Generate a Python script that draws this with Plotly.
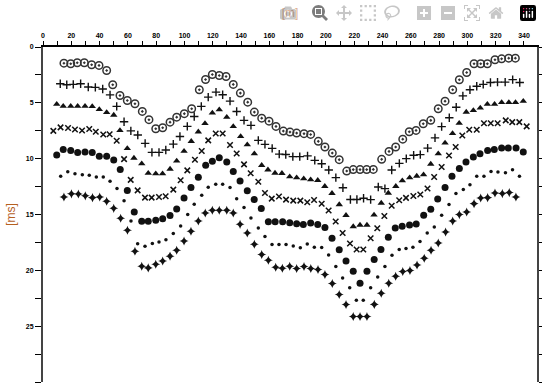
import plotly.graph_objects as go

# ---- data (distance [m], time [ms]) ----
circ_x = [14.8, 19.6, 24.2, 29.2, 34.4, 39.6, 45.0, 49.3, 54.4, 59.6, 65.0, 70.2, 74.9, 79.7, 84.6, 89.8, 94.5, 99.9, 105.1, 110.5,
          114.9, 119.7, 124.6, 129.4, 134.5, 139.5, 144.7, 149.4, 154.6, 159.8, 164.7, 169.9, 174.6, 179.3, 184.5, 189.2, 194.6, 199.3,
          204.5, 209.4, 214.7, 219.3, 224.1, 228.8, 233.5, 239.4, 244.6, 249.3, 254.3, 258.9, 263.7, 268.8, 274.1, 279.4, 284.2, 289.6,
          294.3, 299.5, 304.7, 309.4, 314.1, 319.5, 324.2, 329.2, 333.9]
circ_y = [1.45, 1.50, 1.41, 1.41, 1.59, 1.65, 2.10, 3.38, 4.34, 4.79, 5.08, 5.77, 6.51, 7.32, 7.23, 6.73, 6.28, 5.97, 5.53, 3.83,
          2.91, 2.46, 2.55, 2.64, 3.35, 4.13, 4.94, 5.83, 6.37, 6.64, 7.11, 7.53, 7.62, 7.71, 7.76, 7.83, 8.45, 8.96,
          9.50, 10.09, 11.11, 10.98, 10.98, 10.98, 10.96, 10.06, 9.35, 8.96, 8.25, 7.59, 7.47, 6.87, 6.57, 5.53, 4.85, 3.83,
          2.93, 2.28, 1.50, 1.50, 1.50, 1.14, 1.06, 1.00, 1.00]

plus_x = [12.2, 16.8, 21.4, 26.6, 32.0, 37.0, 42.2, 47.4, 52.1, 57.3, 62.1, 67.0, 72.2, 77.0, 82.0, 86.8, 92.1, 96.8, 102.0, 106.9,
          111.9, 116.8, 122.3, 127.0, 132.2, 136.9, 142.1, 147.0, 152.2, 156.9, 162.0, 167.0, 171.6, 176.6, 181.5, 187.0, 192.1,
          197.0, 202.0, 207.0, 212.0, 217.3, 221.9, 226.6, 231.6, 237.0, 241.7, 246.5, 251.9, 256.8, 262.0, 266.7, 271.9, 277.1,
          281.8, 287.2, 292.1, 296.8, 301.8, 306.6, 311.2, 316.3, 321.3, 326.7, 332.0, 337.0]
plus_y = [3.29, 3.38, 3.35, 3.29, 3.58, 3.62, 3.76, 4.29, 5.32, 6.69, 7.51, 7.88, 8.63, 9.44, 9.44, 9.22, 8.70, 8.01, 7.11, 6.22,
          5.32, 4.49, 4.04, 4.28, 4.85, 5.77, 6.57, 7.02, 8.36, 8.72, 9.08, 9.59, 9.63, 9.82, 9.82, 9.75, 10.15,
          10.45, 11.02, 11.70, 12.61, 13.66, 13.66, 13.55, 13.67, 12.54, 12.68, 11.01, 10.42, 10.00, 9.70, 9.64, 9.06, 8.14,
          7.13, 6.33, 5.39, 4.38, 3.83, 3.52, 3.35, 3.18, 3.15, 3.15, 2.92, 3.18]

tri_x = [9.7, 14.3, 19.6, 24.5, 29.7, 34.8, 39.8, 45.0, 50.0, 54.4, 59.6, 64.3, 69.8, 74.4, 79.7, 84.5, 89.8, 94.5, 99.7, 104.8,
         109.8, 114.5, 119.7, 124.6, 129.9, 134.5, 139.7, 144.4, 149.4, 154.6, 159.0, 164.0, 168.9, 174.4, 179.3, 184.3, 189.2,
         194.2, 199.2, 204.3, 209.4, 214.2, 219.3, 224.1, 229.0, 234.0, 239.1, 244.1, 249.4, 254.0, 259.2, 264.2, 269.0, 274.1,
         279.4, 284.2, 289.5, 294.2, 299.2, 304.2, 309.1, 314.1, 319.2, 324.2, 329.3, 334.0, 339.5]
tri_y = [5.12, 5.30, 5.30, 5.30, 5.30, 5.32, 5.59, 5.86, 6.10, 7.47, 9.08, 9.95, 10.45, 11.30, 11.34, 11.34, 10.93, 10.20, 9.33, 8.45,
         7.60, 6.84, 5.90, 5.61, 6.28, 7.11, 8.01, 8.75, 9.55, 10.60, 11.00, 11.29, 11.31, 11.61, 11.70, 11.79, 11.88,
         11.94, 12.48, 13.10, 14.11, 15.07, 16.08, 15.94, 15.94, 15.04, 13.97, 13.08, 12.48, 11.97, 11.70, 11.56, 11.43, 10.48,
         9.55, 8.59, 7.74, 6.82, 5.83, 5.68, 5.46, 5.12, 5.12, 4.96, 4.96, 4.96, 4.85]

xm_x = [7.3, 12.4, 17.7, 22.6, 27.6, 32.7, 37.3, 42.6, 47.1, 52.1, 57.3, 62.0, 66.9, 72.1, 76.8, 82.0, 86.7, 92.1, 97.3, 102.0,
        107.4, 112.2, 116.8, 122.1, 127.0, 132.2, 136.9, 142.1, 146.8, 152.2, 156.9, 161.7, 166.8, 171.8, 176.9, 181.9, 186.8,
        191.6, 197.0, 201.9, 206.9, 211.8, 217.0, 221.7, 226.4, 231.6, 236.3, 241.3, 246.5, 251.8, 256.6, 261.8, 266.7, 271.8,
        276.5, 281.8, 287.0, 291.7, 296.4, 301.3, 306.6, 311.7, 316.5, 321.4, 327.1, 331.7, 336.7, 341.9]
xm_y = [7.51, 7.20, 7.25, 7.38, 7.47, 7.35, 7.59, 7.84, 7.81, 8.39, 10.04, 11.90, 12.84, 13.49, 13.49, 13.43, 13.37, 12.77, 11.94, 11.05,
        10.09, 9.32, 8.36, 7.74, 7.74, 8.78, 9.53, 10.51, 11.31, 12.06, 13.08, 13.58, 13.39, 13.67, 13.76, 13.76, 13.91,
        13.70, 14.03, 14.65, 15.63, 16.65, 17.60, 18.13, 18.13, 17.13, 16.23, 15.13, 14.22, 13.73, 13.51, 13.35, 13.21, 12.68,
        11.65, 10.75, 9.71, 8.96, 7.92, 7.41, 7.41, 6.82, 6.82, 6.82, 6.57, 6.73, 6.73, 7.11]

dot_x = [9.7, 14.3, 19.6, 24.5, 29.7, 34.8, 39.8, 45.0, 50.0, 54.6, 59.6, 64.5, 69.8, 74.4, 79.7, 84.6, 89.8, 94.5, 99.7, 104.6,
         109.8, 115.0, 119.7, 124.6, 129.9, 134.5, 139.3, 144.4, 149.3, 154.3, 159.3, 164.1, 169.4, 174.4, 179.3, 184.0, 189.2,
         194.2, 199.3, 204.3, 209.4, 214.2, 219.3, 224.1, 229.0, 234.1, 238.9, 244.1, 249.0, 253.9, 259.1, 263.8, 269.1, 274.1,
         279.0, 284.2, 289.1, 294.3, 299.0, 304.2, 308.9, 314.3, 319.0, 324.2, 328.9, 334.4, 339.5]
dot_y = [9.68, 9.19, 9.26, 9.44, 9.41, 9.44, 9.79, 9.79, 10.13, 10.96, 12.84, 14.78, 15.61, 15.61, 15.52, 15.37, 15.10, 14.51, 13.52, 12.59,
         11.67, 10.60, 10.24, 9.91, 10.30, 11.16, 12.01, 12.88, 13.66, 14.47, 15.64, 15.65, 15.65, 15.74, 15.83, 15.89, 15.76,
         15.89, 16.17, 17.13, 18.16, 19.17, 20.08, 21.15, 20.08, 19.03, 18.14, 17.04, 16.22, 16.06, 15.94, 15.85, 15.07, 14.53,
         13.61, 12.59, 11.58, 10.89, 10.30, 9.86, 9.55, 9.26, 9.17, 9.05, 9.05, 9.05, 9.41]

sm_x = [12.5, 17.5, 22.6, 27.8, 32.7, 37.7, 42.6, 47.4, 52.3, 57.3, 62.2, 66.9, 72.1, 77.3, 82.0, 86.9, 92.1, 97.3, 102.3, 106.9,
        112.2, 116.8, 122.1, 127.0, 132.2, 136.9, 142.1, 147.0, 152.2, 156.9, 161.9, 166.8, 171.8, 176.9, 181.9, 186.8, 191.8,
        197.0, 201.9, 207.0, 211.8, 216.8, 221.5, 226.4, 231.6, 236.6, 241.7, 246.7, 251.8, 256.6, 261.5, 266.5, 271.6, 276.6,
        281.8, 287.0, 291.9, 297.1, 301.8, 306.6, 311.7, 316.7, 321.6, 326.9, 331.9, 336.8]
sm_y = [11.58, 11.18, 11.36, 11.45, 11.49, 11.65, 11.65, 12.03, 12.68, 13.76, 15.58, 17.62, 17.84, 17.60, 17.46, 17.25, 16.71, 16.03, 15.01, 14.09,
        13.28, 12.57, 12.30, 12.30, 12.59, 13.58, 14.38, 15.31, 16.21, 16.98, 17.68, 17.68, 17.68, 17.82, 17.98, 17.65, 17.93,
        17.96, 18.62, 19.66, 20.68, 21.56, 22.67, 22.67, 21.57, 20.59, 19.66, 18.65, 18.14, 18.05, 17.93, 17.42, 16.65, 16.12,
        15.07, 14.11, 13.13, 12.77, 12.33, 11.58, 11.58, 11.15, 11.20, 11.25, 11.00, 11.58]

arr_x = [14.8, 20.1, 25.0, 29.9, 35.0, 40.1, 45.0, 50.0, 54.9, 59.7, 65.0, 69.8, 74.4, 79.7, 84.6, 89.8, 94.5, 99.7, 104.6, 109.8,
         114.7, 119.7, 124.6, 129.9, 134.5, 139.3, 144.4, 149.4, 154.6, 159.3, 164.5, 169.2, 174.4, 179.3, 184.5, 189.3, 194.4,
         199.3, 204.5, 209.4, 214.2, 219.3, 224.1, 229.0, 234.2, 239.1, 244.4, 249.3, 254.3, 259.4, 264.4, 269.5, 274.3, 279.4,
         284.6, 289.6, 294.3, 299.5, 304.7, 309.4, 314.3, 319.5, 324.7, 329.6, 334.3]
arr_y = [13.43, 13.15, 13.17, 13.33, 13.49, 13.43, 13.82, 14.45, 15.34, 16.41, 18.29, 19.63, 19.78, 19.45, 19.16, 18.74, 18.20, 17.37, 16.50, 15.58,
         14.87, 14.62, 14.62, 14.62, 14.87, 15.88, 16.65, 17.67, 18.58, 19.10, 19.72, 19.81, 19.63, 19.84, 19.66, 19.84, 19.93,
         20.37, 21.18, 22.16, 23.06, 24.13, 24.13, 24.13, 23.05, 22.05, 21.15, 20.53, 20.11, 20.02, 19.52, 18.92, 18.20, 17.55,
         16.57, 15.58, 15.01, 14.78, 14.03, 13.52, 13.49, 13.08, 13.13, 13.04, 13.43]

x_ticks = [0, 20, 40, 60, 80, 100, 120, 140, 160, 180, 200, 220, 240, 260, 280, 300, 320, 340]
y_ticks = [0, 5, 10, 15, 20, 25, 30]

INK = "#111111"
fig = go.Figure()

def add(xs, ys, symbol, size, lw=0, color=INK):
    fig.add_trace(go.Scatter(
        x=xs, y=ys, mode="markers", showlegend=False, hoverinfo="skip",
        marker=dict(symbol=symbol, size=size, color=color,
                    line=dict(width=lw, color=color))))

add(circ_x, circ_y, "circle-open-dot", 7.5, 1.5, "#333333")
add(plus_x, plus_y, "cross-thin-open", 6, 1.4)
add(tri_x, tri_y, "triangle-up", 6.5)
add(xm_x, xm_y, "x-thin-open", 5.5, 1.5)
add(dot_x, dot_y, "circle", 7)
add(sm_x, sm_y, "circle", 3.5)
add(arr_x, arr_y, "star-diamond", 6.5)

FONT = "Liberation Sans, Arial, sans-serif"
axis_font = dict(family=FONT, size=7, color="#000000", weight="bold")
title_color = "#b5601f"

fig.update_layout(
    width=542, height=383, autosize=False,
    margin=dict(l=43, r=5, t=47, b=1, autoexpand=False),
    paper_bgcolor="white", plot_bgcolor="white",
    xaxis=dict(
        side="top", range=[0, 349.2], tickmode="array", tickvals=x_ticks,
        ticktext=[str(v) for v in x_ticks],
        ticks="outside", ticklen=4, tickwidth=1, tickcolor="#000",
        showline=True, linecolor="#000", linewidth=1.5, mirror=False,
        showgrid=False, zeroline=False, tickfont=axis_font,
        minor=dict(dtick=10, ticks="outside", ticklen=4, tickcolor="#000", showgrid=False),
        title=dict(text="[m]", font=dict(family=FONT, size=12, color=title_color), standoff=12),
    ),
    yaxis=dict(
        range=[30, 0], tickmode="array", tickvals=y_ticks,
        ticktext=[str(v) for v in y_ticks],
        ticks="outside", ticklen=6, tickwidth=1, tickcolor="#000",
        showline=True, linecolor="#444", linewidth=2, mirror="allticks",
        showgrid=False, zeroline=False, tickfont=axis_font,
        minor=dict(dtick=2.5, ticks="outside", ticklen=6, tickcolor="#000", showgrid=False),
        title=dict(text="[ms]", font=dict(family=FONT, size=12, color=title_color), standoff=8),
    ),
)

# remove the default page margin and scrollbars so the 542x383 figure fills the window exactly
page_fix = ("document.documentElement.style.overflow='hidden';"
            "document.body.style.margin='0';"
            "document.body.style.overflow='hidden';")
fig.write_html("out.html", post_script=page_fix)
